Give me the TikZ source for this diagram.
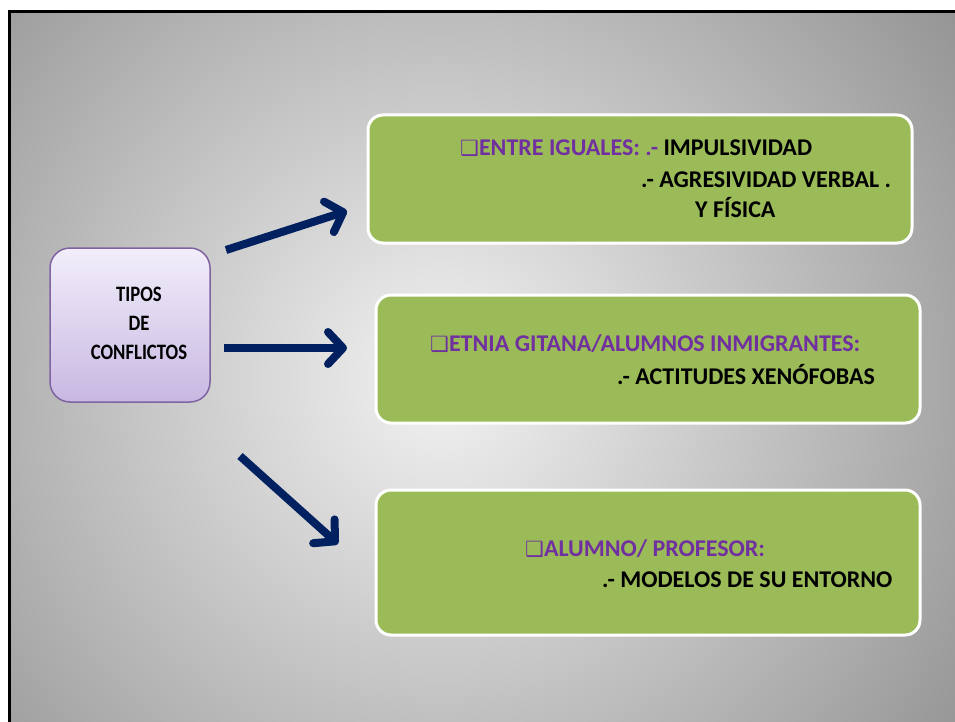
\documentclass[tikz,border=0pt]{standalone}
\usepackage{fontspec}
\usepackage{graphicx}
\setmainfont{Carlito}
\newfontfamily\symfont{DejaVu Sans}
\usetikzlibrary{arrows.meta}

\definecolor{navyblue}{RGB}{0,32,96}
\definecolor{leafgreen}{RGB}{155,187,89}
\definecolor{violettext}{RGB}{112,48,160}
\definecolor{lavtop}{RGB}{242,238,250}
\definecolor{lavbottom}{RGB}{200,184,226}
\definecolor{lavedge}{RGB}{128,100,162}

\newcommand{\boxmark}{{\symfont\fontsize{21}{21}\selectfont ❑}}

\tikzset{
  greenbox/.style={draw=white, line width=3pt, fill=leafgreen, rounded corners=15pt,
    minimum width=544pt, minimum height=128pt, inner sep=0pt},
  typebox/.style={draw=lavedge, line width=1.5pt, top color=lavtop, bottom color=lavbottom,
    rounded corners=20pt, minimum width=160pt, minimum height=154pt, inner sep=0pt},
  linetxt/.style={font=\fontsize{24}{29}\selectfont\bfseries, inner sep=0pt, anchor=base west},
  bigarrow/.style={navyblue, line width=8pt, -{Straight Barb[round,length=15pt,width=32pt]}}
}

\begin{document}
\begin{tikzpicture}[x=1pt,y=-1pt]
  \useasboundingbox (0,0) rectangle (955,722);
  % slide background
  \begin{scope}
    \clip (10,12) rectangle (955,722);
    \shade[inner color=black!5, outer color=black!42] (440,380) circle (640);
  \end{scope}
  \draw[line width=3pt] (9.5,722) -- (9.5,11.5) -- (955,11.5);

  % boxes
  \node[typebox, font=\fontsize{22}{29}\selectfont\bfseries] (tipos) at (130,325)
    {\hspace{18pt}\scalebox{0.85}[1]{\begin{tabular}{@{}c@{}}TIPOS\\DE\\CONFLICTOS\end{tabular}}};
  \node[greenbox] (iguales) at (640,179) {};
  \node[greenbox] (etnia) at (648,359) {};
  \node[greenbox, minimum height=145pt] (profesor) at (648,562.5) {};

  % texts
  \node[linetxt] (iguales1) at (460,156)
    {\textcolor{violettext}{\boxmark ENTRE IGUALES: .-} IMPULSIVIDAD};
  \node[linetxt] (iguales2) at (641,188) {.- AGRESIVIDAD VERBAL .};
  \node[linetxt] (iguales3) at (695,218) {Y FÍSICA};
  \node[linetxt, violettext] (etnia1) at (430,351) {\boxmark ETNIA GITANA/ALUMNOS INMIGRANTES:};
  \node[linetxt] (etnia2) at (617,384) {.- ACTITUDES XENÓFOBAS};
  \node[linetxt, violettext] (profesor1) at (525,556) {\boxmark ALUMNO/ PROFESOR:};
  \node[linetxt] (profesor2) at (602,587) {.- MODELOS DE SU ENTORNO};

  % arrows
  \coordinate (up0) at (226,250);
  \coordinate (up1) at (347,211);
  \coordinate (mid0) at (224,348);
  \coordinate (mid1) at (347,348);
  \coordinate (down0) at (240,456);
  \coordinate (down1) at (338,544);
  \draw[bigarrow] (up0) -- (up1);
  \draw[bigarrow] (mid0) -- (mid1);
  \draw[bigarrow] (down0) -- (down1);
\end{tikzpicture}
\end{document}
